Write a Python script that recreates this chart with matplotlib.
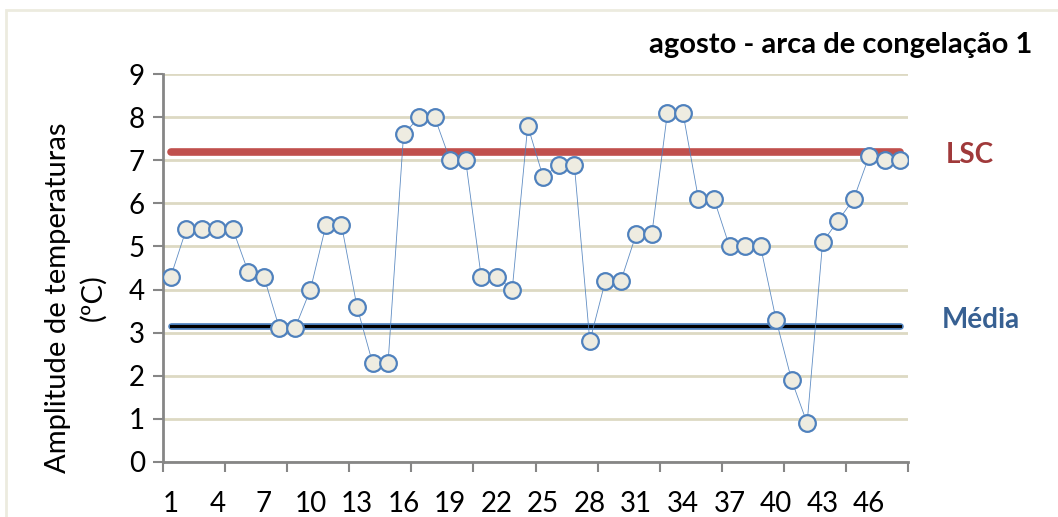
import numpy as np
import matplotlib
matplotlib.use('Agg')
from matplotlib import pyplot as plt
from matplotlib.patches import Rectangle

plt.rcParams['font.family'] = ['Lato', 'DejaVu Sans']

# data
days = list(range(1, 49))
amplitude = [4.3, 5.4, 5.4, 5.4, 5.4, 4.4, 4.3, 3.1, 3.1, 4.0,
             5.5, 5.5, 3.6, 2.3, 2.3, 7.6, 8.0, 8.0, 7.0, 7.0,
             4.3, 4.3, 4.0, 7.8, 6.6, 6.9, 6.9, 2.8, 4.2, 4.2,
             5.3, 5.3, 8.1, 8.1, 6.1, 6.1, 5.0, 5.0, 5.0, 3.3,
             1.9, 0.9, 5.1, 5.6, 6.1, 7.1, 7.0, 7.0]
lsc = 7.2
media = 3.15
x_labels = list(range(1, 49, 3))
y_ticks = list(range(0, 10))

fig = plt.figure(figsize=(10.58, 5.17), dpi=100)
ax = fig.add_axes([163 / 1058, 55 / 517, 745 / 1058, 388 / 517])

# outer chart frame
fig.patches.append(Rectangle((6 / 1058, -0.01), 1.1, (517 - 10) / 517 + 0.01,
                             transform=fig.transFigure, fill=False,
                             edgecolor='#ecebdf', linewidth=2))

# limit lines
ax.plot([days[0], days[-1]], [lsc, lsc], color='#c0504d', linewidth=5.5,
        solid_capstyle='round', zorder=3)
ax.plot([days[0], days[-1]], [media, media], color='#4f81bd', linewidth=4.8,
        solid_capstyle='round', zorder=3)
ax.plot([days[0], days[-1]], [media, media], color='black', linewidth=2.2,
        zorder=3)

# data series
ax.plot(days, amplitude, color='#4f81bd', linewidth=0.6, alpha=0.9, zorder=4)
ax.plot(days, amplitude, linestyle='none', marker='o',
        markersize=12, markerfacecolor='#eeece1', markeredgecolor='#4f81bd',
        markeredgewidth=1.6, zorder=5)

ax.set_xlim(0.5, 48.5)
ax.set_ylim(0, 9)

# ticks every 4 categories, labels every 3
ax.set_xticks(np.arange(0.5, 49, 4))
ax.set_xticklabels([])
ax.set_xticks(x_labels, minor=True)
ax.set_xticklabels([str(v) for v in x_labels], minor=True)
ax.tick_params(axis='x', which='major', direction='out', length=7, width=1.5,
               color='#868686')
ax.tick_params(axis='x', which='minor', length=0, pad=21, labelsize=20)
ax.set_yticks(y_ticks)
ax.tick_params(axis='y', direction='out', length=7, width=1.5,
               color='#868686', labelsize=20, pad=6)

ax.grid(axis='y', color='#ddd9c3', linewidth=2)
ax.set_axisbelow(True)
for s in ['top', 'right']:
    ax.spines[s].set_visible(False)
for s in ['left', 'bottom']:
    ax.spines[s].set_color('#868686')
    ax.spines[s].set_linewidth(2)

fig.text(76 / 1058, 1 - 298 / 517, 'Amplitude de temperaturas\n(ºC)',
         fontsize=21, linespacing=1.4, rotation=90, ha='center', va='center',
         multialignment='center')

fig.text(1032 / 1058, 1 - 45 / 517, 'agosto - arca de congelação 1',
         fontsize=21, fontweight='bold', ha='right', va='center')
fig.text(970 / 1058, 1 - 155 / 517, 'LSC', fontsize=20, fontweight='bold',
         color='#a0393a', ha='center', va='center')
fig.text(981 / 1058, 1 - 320 / 517, 'Média', fontsize=20, fontweight='bold',
         color='#376092', ha='center', va='center')

plt.savefig('out.png', dpi=100)
